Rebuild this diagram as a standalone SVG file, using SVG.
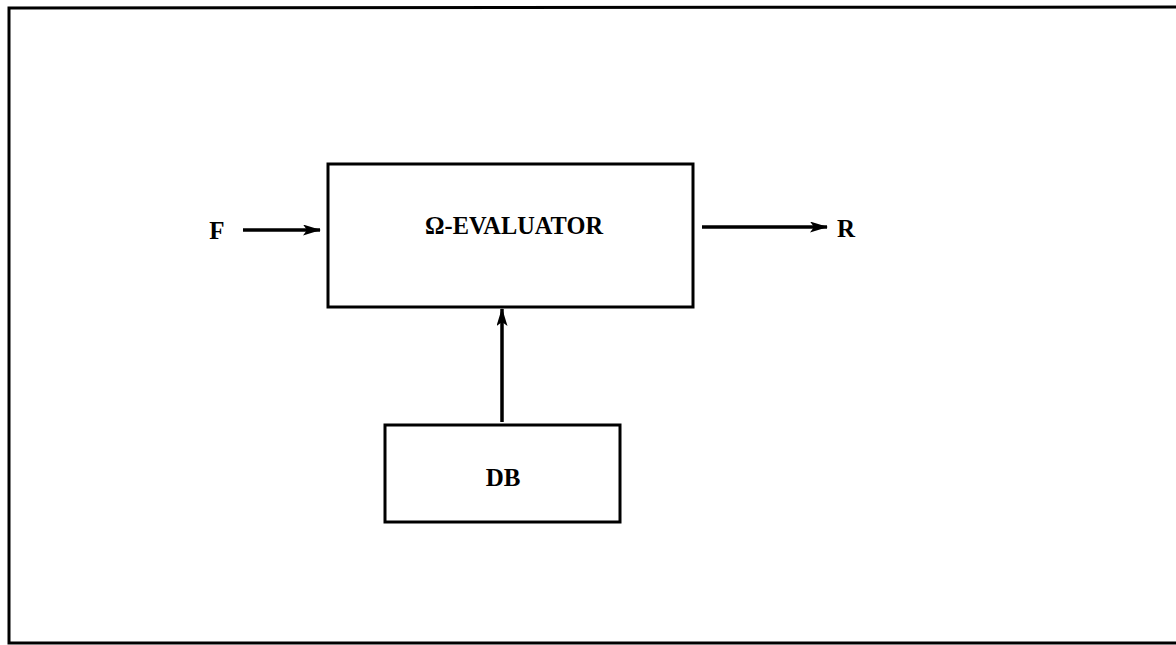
<svg xmlns="http://www.w3.org/2000/svg" width="1176" height="645" viewBox="0 0 1176 645">
<defs>
<style>
.box{fill:none;stroke:#000;stroke-width:3}
.frame{fill:none;stroke:#000;stroke-width:3}
.conn{stroke:#000;stroke-width:3.5;fill:none;marker-end:url(#ah)}
.lbl{font-family:"Liberation Serif","DejaVu Serif",serif;font-weight:bold;font-size:25px;fill:#000}
</style>
<marker id="ah" viewBox="0 0 18 11" refX="17" refY="5.5" markerWidth="18" markerHeight="11" markerUnits="userSpaceOnUse" orient="auto">
<path d="M0,0 L18,5.5 L0,11 L4,5.5 Z" fill="#000"/>
</marker>
</defs>
<rect width="1176" height="645" fill="#fff"/>
<g id="frame">
<polyline class="frame" points="1176,7 9,8 9,643 1176,643"/>
</g>
<g id="evaluator">
<rect class="box" x="328" y="164" width="365" height="143"/>
<text class="lbl" x="514" y="234" text-anchor="middle" textLength="178" lengthAdjust="spacingAndGlyphs">Ω-EVALUATOR</text>
</g>
<g id="db">
<rect class="box" x="385" y="425" width="235" height="97"/>
<text class="lbl" x="503" y="486" text-anchor="middle">DB</text>
</g>
<g id="F">
<text class="lbl" x="217" y="239" text-anchor="middle">F</text>
</g>
<g id="R">
<text class="lbl" x="846" y="237" text-anchor="middle">R</text>
</g>
<g id="connectors">
<line class="conn" x1="243" y1="230" x2="320" y2="230"/>
<line class="conn" x1="702" y1="227" x2="827" y2="227"/>
<line class="conn" x1="502" y1="422" x2="502" y2="309"/>
</g>
</svg>
